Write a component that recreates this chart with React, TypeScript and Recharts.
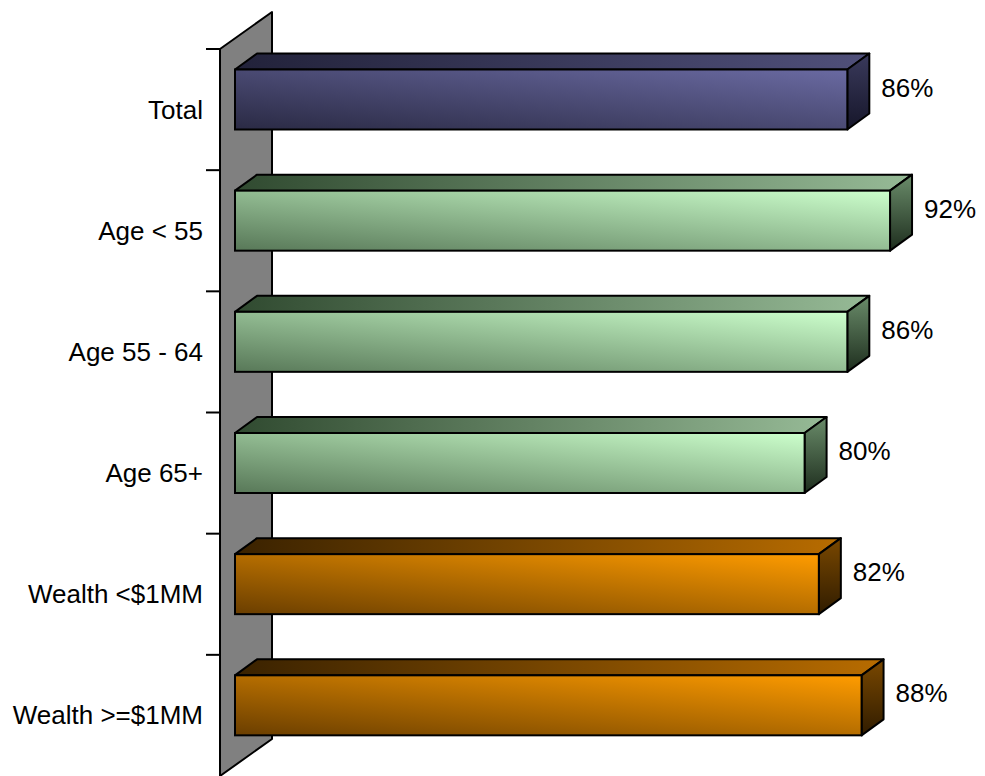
import { BarChart, Bar, XAxis, YAxis, ReferenceArea, LabelList } from "recharts";

const categories = ["Total", "Age < 55", "Age 55 - 64", "Age 65+", "Wealth <$1MM", "Wealth >=$1MM"];
const values = [86, 92, 86, 80, 82, 88];
const groups = ["total", "age", "age", "age", "wealth", "wealth"];

const PALETTES: Record<string, Record<string, string>> = {
  total: {
    frontDark: "#2a2a44", frontLight: "#6a6aa2",
    topDark: "#22223a", topLight: "#50507a",
    sideDark: "#16162a", sideLight: "#3a3a5c",
  },
  age: {
    frontDark: "#587858", frontLight: "#ccffcc",
    topDark: "#304a30", topLight: "#96ba96",
    sideDark: "#1e2e1e", sideLight: "#6a8c6a",
  },
  wealth: {
    frontDark: "#6a3e00", frontLight: "#ff9c00",
    topDark: "#3a2200", topLight: "#b86c00",
    sideDark: "#301c00", sideLight: "#7a4800",
  },
};

const FONT = "'Liberation Sans', Arial, sans-serif";
const CHART_W = 985;
const CHART_H = 776;
const TOP = 49;
const AXIS_W = 220;
const BAND = (CHART_H - TOP) / categories.length;

// 3d offsets: bar depth and where the bar sits inside the wall depth
const DX = 22;
const DY = 16;
const SHIFT_X = 15;
const SHIFT_Y = 10.5;
const WALL_DX = 52;
const WALL_DY = 37;

const data = categories.map((name, i) => ({ name, value: values[i], group: groups[i] }));

function Bar3D(props: any) {
  const { x, y, width, height, payload } = props;
  const pal = PALETTES[payload.group];
  const g = payload.group;
  const fx = x + SHIFT_X;
  const fy = y - SHIFT_Y;
  const w = width;
  const h = height;
  return (
    <g>
      <defs>
        <linearGradient id={`front-${g}`} x1="0" y1="1" x2="1" y2="0">
          <stop offset="0%" stopColor={pal.frontDark} />
          <stop offset="100%" stopColor={pal.frontLight} />
        </linearGradient>
        <linearGradient id={`top-${g}`} x1="0" y1="0" x2="1" y2="0">
          <stop offset="0%" stopColor={pal.topDark} />
          <stop offset="100%" stopColor={pal.topLight} />
        </linearGradient>
        <linearGradient id={`side-${g}`} x1="0" y1="0" x2="0" y2="1">
          <stop offset="0%" stopColor={pal.sideLight} />
          <stop offset="100%" stopColor={pal.sideDark} />
        </linearGradient>
      </defs>
      <polygon
        points={`${fx},${fy} ${fx + DX},${fy - DY} ${fx + w + DX},${fy - DY} ${fx + w},${fy}`}
        fill={`url(#top-${g})`}
        stroke="#000"
        strokeWidth={2}
        strokeLinejoin="round"
      />
      <polygon
        points={`${fx + w},${fy} ${fx + w + DX},${fy - DY} ${fx + w + DX},${fy + h - DY} ${fx + w},${fy + h}`}
        fill={`url(#side-${g})`}
        stroke="#000"
        strokeWidth={2}
        strokeLinejoin="round"
      />
      <rect x={fx} y={fy} width={w} height={h} fill={`url(#front-${g})`} stroke="#000" strokeWidth={2} />
    </g>
  );
}

function Wall(props: any) {
  const { x, y, height } = props;
  return (
    <polygon
      points={`${x},${y + height} ${x},${y} ${x + WALL_DX},${y - WALL_DY} ${x + WALL_DX},${y + height - WALL_DY}`}
      fill="#808080"
      stroke="#000"
      strokeWidth={2}
      strokeLinejoin="round"
    />
  );
}

function CategoryTick(props: any) {
  const { y, payload } = props;
  const top = y - BAND / 2;
  return (
    <g>
      <line x1={206} y1={top} x2={AXIS_W} y2={top} stroke="#000" strokeWidth={2} />
      <text x={203} y={y + 9} textAnchor="end" fontFamily={FONT} fontSize={26} fill="#000">
        {payload.value}
      </text>
    </g>
  );
}

function ValueLabel(props: any) {
  const { x, y, width, value } = props;
  const right = x + SHIFT_X + width;
  const top = y - SHIFT_Y;
  return (
    <text x={right + DX + 12} y={top + 27} fontFamily={FONT} fontSize={26} fill="#000">
      {`${value}%`}
    </text>
  );
}

export default function App() {
  return (
    <div style={{ position: "absolute", left: 0, top: 0, width: CHART_W, height: CHART_H, background: "#fff" }}>
      <BarChart
        width={CHART_W}
        height={CHART_H}
        data={data}
        layout="vertical"
        margin={{ top: TOP, right: 53, bottom: 0, left: 0 }}
        barSize={60}
      >
        <XAxis type="number" domain={[0, 100]} hide />
        <YAxis
          type="category"
          dataKey="name"
          width={AXIS_W}
          axisLine={false}
          tickLine={false}
          tick={<CategoryTick />}
          interval={0}
        />
        <ReferenceArea x1={0} x2={100} ifOverflow="visible" shape={<Wall />} />
        <Bar dataKey="value" shape={<Bar3D />} isAnimationActive={false}>
          <LabelList dataKey="value" content={<ValueLabel />} />
        </Bar>
      </BarChart>
    </div>
  );
}
